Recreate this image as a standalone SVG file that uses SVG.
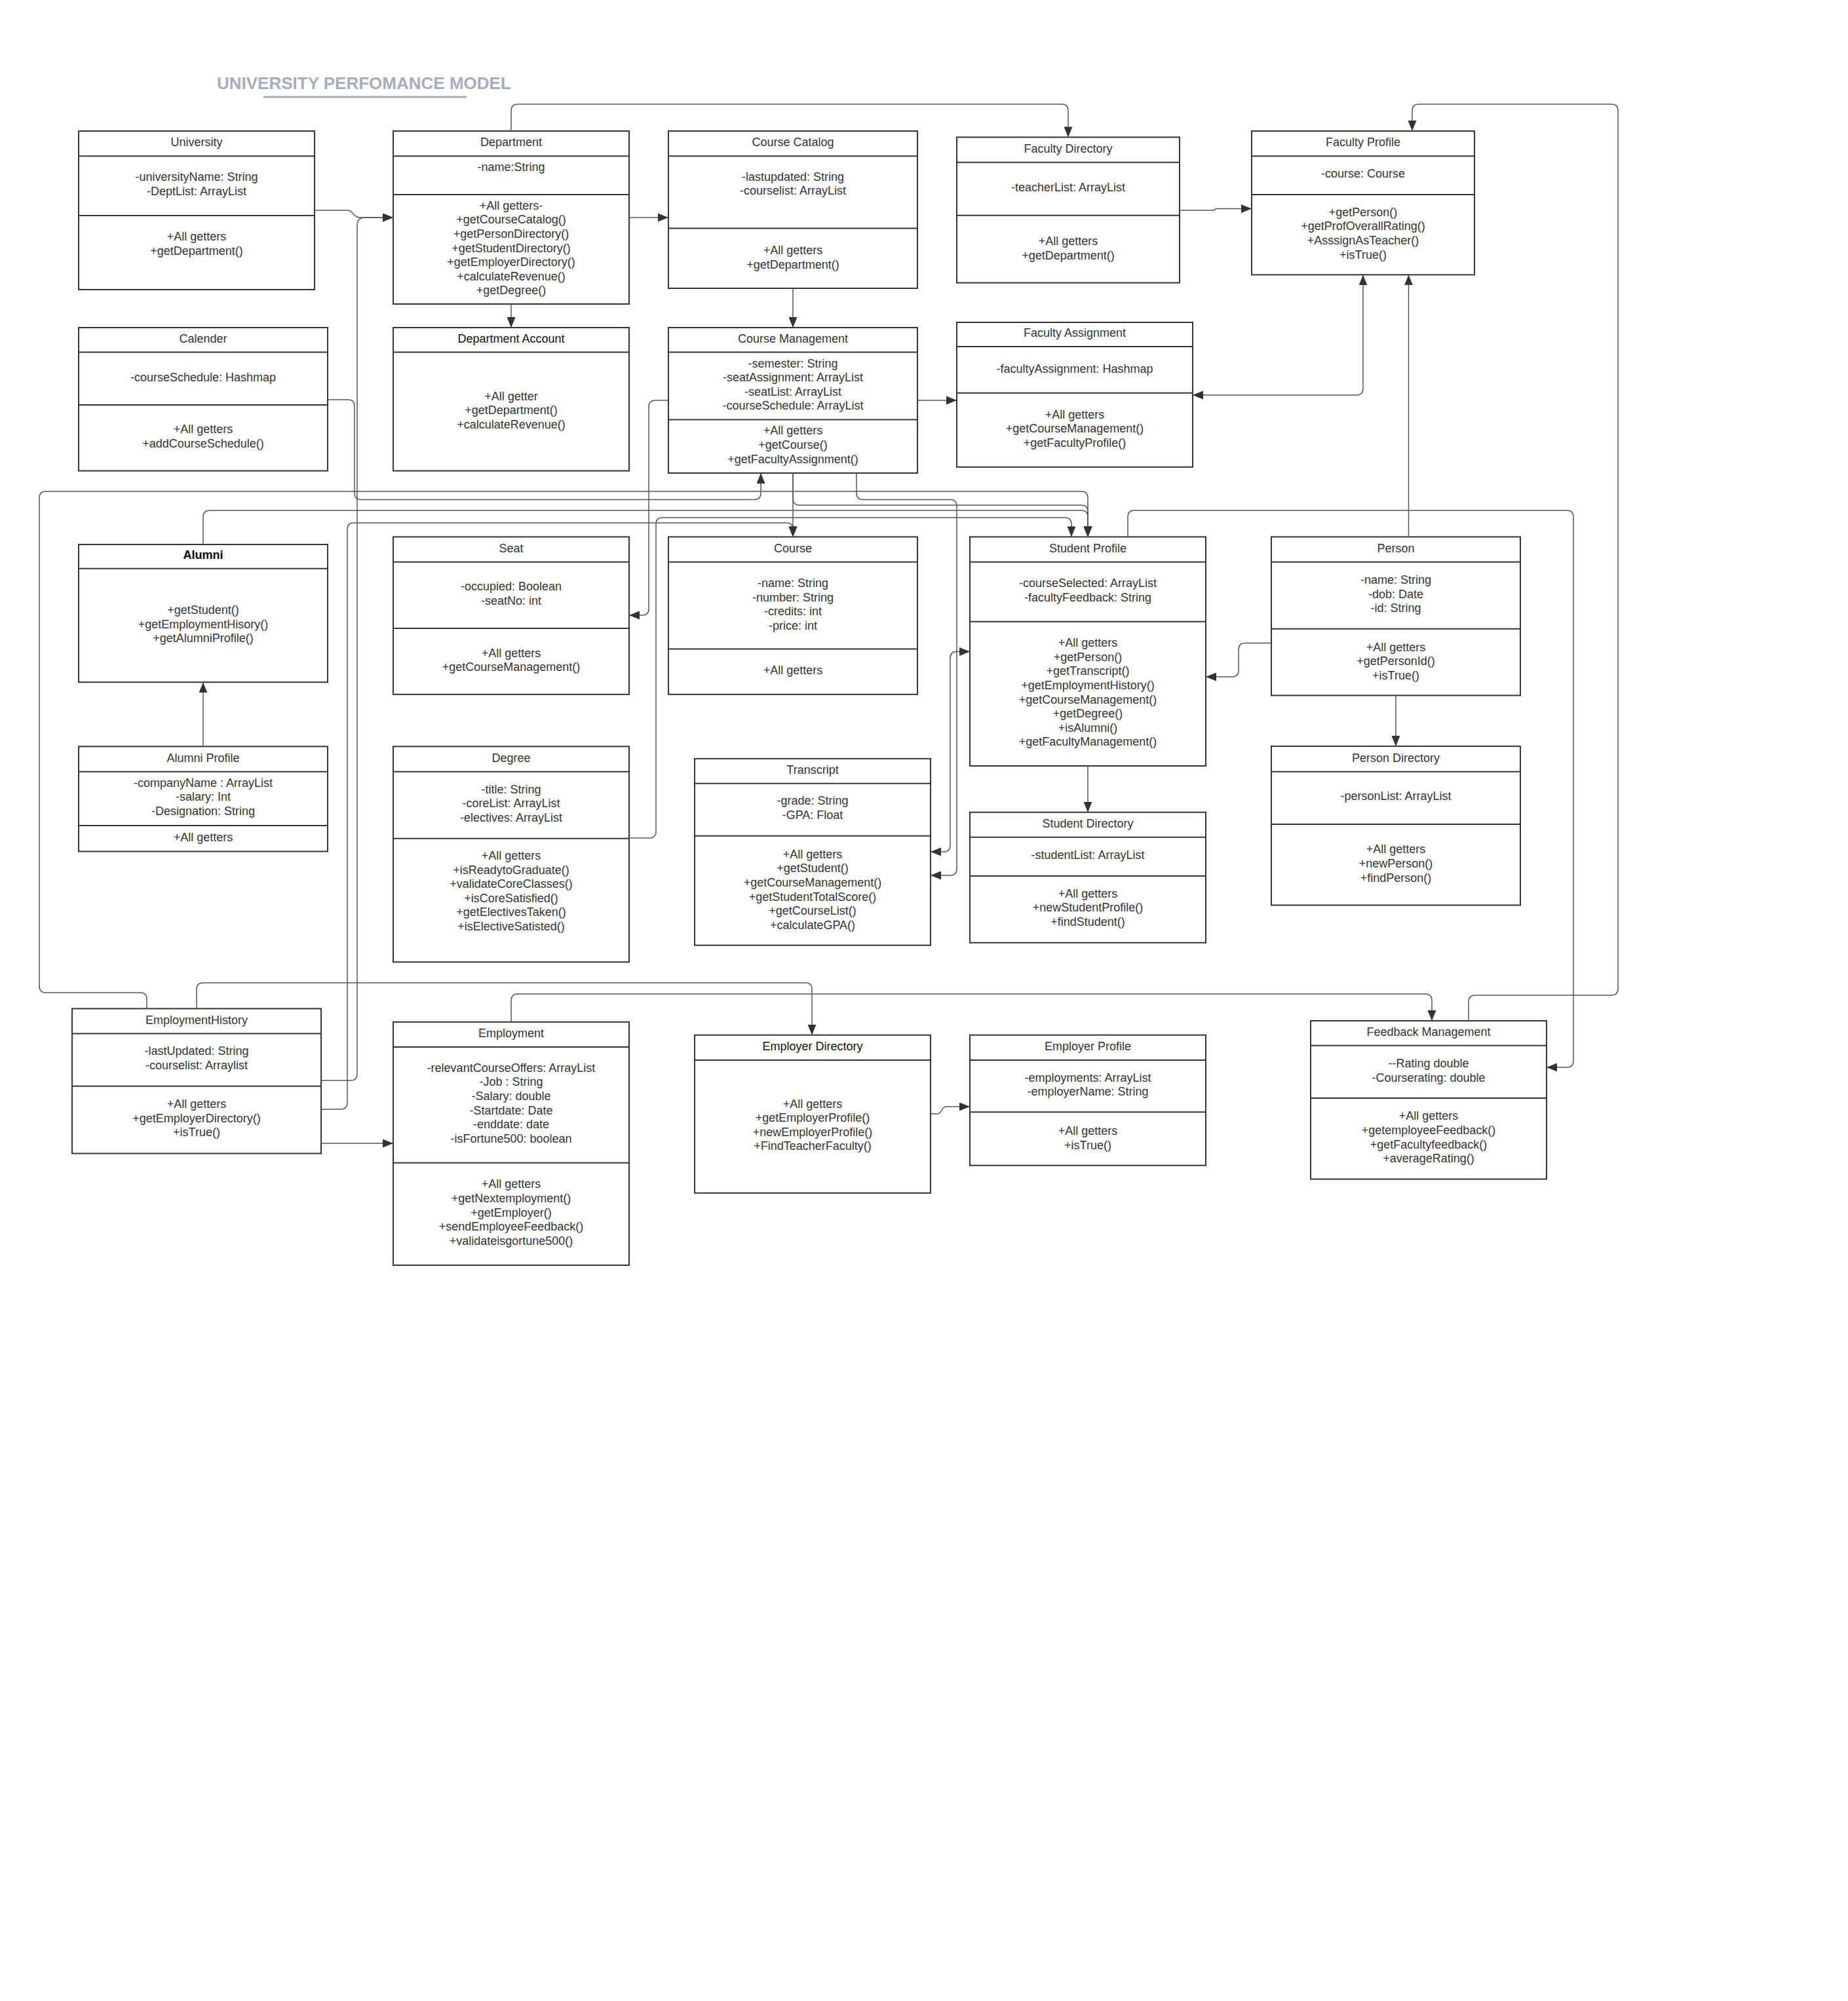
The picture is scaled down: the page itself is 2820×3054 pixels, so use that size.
<svg xmlns="http://www.w3.org/2000/svg" width="2820" height="3054" viewBox="0 0 2820 3054">
  <style>
    .box { fill: #fff; stroke: #333; stroke-width: 2; }
    .sep { stroke: #333; stroke-width: 2; }
    .t { font-family: "Liberation Sans", Arial, sans-serif; font-size: 18px; fill: #333; text-anchor: middle; }
    .hd { fill: #111; }
    .bold { font-weight: bold; fill: #000; }
    .title { font-family: "Liberation Sans", Arial, sans-serif; font-size: 26px; font-weight: bold; fill: #a7aebb; }
    .c { fill: none; stroke: #555; stroke-width: 1.5; }
  </style>
  <defs>
    <marker id="arr" viewBox="0 0 16 13" refX="16" refY="6.5" markerWidth="16" markerHeight="13" markerUnits="userSpaceOnUse" orient="auto-start-reverse">
      <path d="M0,0 L16,6.5 L0,13 z" fill="#333"/>
    </marker>
  </defs>
  <rect width="2820" height="3054" fill="#fff"/>

  <!-- heading -->
  <g id="heading">
    <text class="title" x="331" y="135.5">UNIVERSITY PERFOMANCE MODEL</text>
    <line x1="402" y1="148" x2="712" y2="148" stroke="#a7aebb" stroke-width="3"/>
  </g>

  <!-- classes -->
  <g id="university">
    <rect class="box" x="120" y="200" width="360" height="242"/>
    <line class="sep" x1="120" y1="238.3" x2="480" y2="238.3"/>
    <line class="sep" x1="120" y1="329" x2="480" y2="329"/>
    <text class="t" x="300" y="222.5">University</text>
    <text class="t" x="300" y="276.3">-universityName: String</text>
    <text class="t" x="300" y="298">-DeptList: ArrayList</text>
    <text class="t" x="300" y="367.3">+All getters</text>
    <text class="t" x="300" y="389">+getDepartment()</text>
  </g>

  <g id="department">
    <rect class="box" x="600" y="200" width="360" height="264"/>
    <line class="sep" x1="600" y1="238.3" x2="960" y2="238.3"/>
    <line class="sep" x1="600" y1="297" x2="960" y2="297"/>
    <text class="t" x="780" y="222.5">Department</text>
    <text class="t" x="780" y="261">-name:String</text>
    <text class="t" x="780" y="319.8">+All getters-</text>
    <text class="t" x="780" y="341.4">+getCourseCatalog()</text>
    <text class="t" x="780" y="363">+getPersonDirectory()</text>
    <text class="t" x="780" y="384.6">+getStudentDirectory()</text>
    <text class="t" x="780" y="406.2">+getEmployerDirectory()</text>
    <text class="t" x="780" y="427.8">+calculateRevenue()</text>
    <text class="t" x="780" y="449.4">+getDegree()</text>
  </g>

  <g id="course-catalog">
    <rect class="box" x="1020" y="200" width="380" height="240"/>
    <line class="sep" x1="1020" y1="238.3" x2="1400" y2="238.3"/>
    <line class="sep" x1="1020" y1="348.6" x2="1400" y2="348.6"/>
    <text class="t" x="1210" y="222.5">Course Catalog</text>
    <text class="t" x="1210" y="275.5">-lastupdated: String</text>
    <text class="t" x="1210" y="297.3">-courselist: ArrayList</text>
    <text class="t" x="1210" y="387.8">+All getters</text>
    <text class="t" x="1210" y="409.6">+getDepartment()</text>
  </g>

  <g id="faculty-directory">
    <rect class="box" x="1460" y="209.4" width="340" height="222.2"/>
    <line class="sep" x1="1460" y1="247.8" x2="1800" y2="247.8"/>
    <line class="sep" x1="1460" y1="328.8" x2="1800" y2="328.8"/>
    <text class="t" x="1630" y="232.8">Faculty Directory</text>
    <text class="t" x="1630" y="292.1">-teacherList: ArrayList</text>
    <text class="t" x="1630" y="374">+All getters</text>
    <text class="t" x="1630" y="395.7">+getDepartment()</text>
  </g>

  <g id="faculty-profile">
    <rect class="box" x="1910" y="200" width="340" height="219.4"/>
    <line class="sep" x1="1910" y1="238.3" x2="2250" y2="238.3"/>
    <line class="sep" x1="1910" y1="297" x2="2250" y2="297"/>
    <text class="t" x="2080" y="222.5">Faculty Profile</text>
    <text class="t" x="2080" y="270.8">-course: Course</text>
    <text class="t" x="2080" y="329.7">+getPerson()</text>
    <text class="t" x="2080" y="351.3">+getProfOverallRating()</text>
    <text class="t" x="2080" y="372.9">+AsssignAsTeacher()</text>
    <text class="t" x="2080" y="394.5">+isTrue()</text>
  </g>

  <g id="calender">
    <rect class="box" x="120" y="500" width="380" height="218.6"/>
    <line class="sep" x1="120" y1="537.6" x2="500" y2="537.6"/>
    <line class="sep" x1="120" y1="618" x2="500" y2="618"/>
    <text class="t" x="310" y="522.7">Calender</text>
    <text class="t" x="310" y="581.6">-courseSchedule: Hashmap</text>
    <text class="t" x="310" y="661.4">+All getters</text>
    <text class="t" x="310" y="683.2">+addCourseSchedule()</text>
  </g>

  <g id="department-account">
    <rect class="box" x="600" y="500" width="360" height="218.6"/>
    <line class="sep" x1="600" y1="537.6" x2="960" y2="537.6"/>
    <text class="t hd" x="780" y="522.7">Department Account</text>
    <text class="t" x="780" y="610.8">+All getter</text>
    <text class="t" x="780" y="632.4">+getDepartment()</text>
    <text class="t" x="780" y="654">+calculateRevenue()</text>
  </g>

  <g id="course-management">
    <rect class="box" x="1020" y="500" width="380" height="222"/>
    <line class="sep" x1="1020" y1="537.6" x2="1400" y2="537.6"/>
    <line class="sep" x1="1020" y1="640.4" x2="1400" y2="640.4"/>
    <text class="t" x="1210" y="522.7">Course Management</text>
    <text class="t" x="1210" y="560.6">-semester: String</text>
    <text class="t" x="1210" y="582.2">-seatAssignment: ArrayList</text>
    <text class="t" x="1210" y="603.8">-seatList: ArrayList</text>
    <text class="t" x="1210" y="625.4">-courseSchedule: ArrayList</text>
    <text class="t" x="1210" y="663.4">+All getters</text>
    <text class="t" x="1210" y="685">+getCourse()</text>
    <text class="t" x="1210" y="706.6">+getFacultyAssignment()</text>
  </g>

  <g id="faculty-assignment">
    <rect class="box" x="1460" y="492" width="360" height="220.8"/>
    <line class="sep" x1="1460" y1="529" x2="1820" y2="529"/>
    <line class="sep" x1="1460" y1="599.7" x2="1820" y2="599.7"/>
    <text class="t" x="1640" y="514">Faculty Assignment</text>
    <text class="t" x="1640" y="568.5">-facultyAssignment: Hashmap</text>
    <text class="t" x="1640" y="638.5">+All getters</text>
    <text class="t" x="1640" y="660.3">+getCourseManagement()</text>
    <text class="t" x="1640" y="682">+getFacultyProfile()</text>
  </g>

  <g id="alumni">
    <rect class="box" x="120" y="831" width="380" height="210.2"/>
    <line class="sep" x1="120" y1="867.7" x2="500" y2="867.7"/>
    <text class="t bold" x="310" y="853.1">Alumni</text>
    <text class="t" x="310" y="936.9">+getStudent()</text>
    <text class="t" x="310" y="958.5">+getEmploymentHisory()</text>
    <text class="t" x="310" y="980.1">+getAlumniProfile()</text>
  </g>

  <g id="seat">
    <rect class="box" x="600" y="819.4" width="360" height="240.4"/>
    <line class="sep" x1="600" y1="857.8" x2="960" y2="857.8"/>
    <line class="sep" x1="600" y1="959" x2="960" y2="959"/>
    <text class="t" x="780" y="842.8">Seat</text>
    <text class="t" x="780" y="901.3">-occupied: Boolean</text>
    <text class="t" x="780" y="923.1">-seatNo: int</text>
    <text class="t" x="780" y="1002.6">+All getters</text>
    <text class="t" x="780" y="1024.3">+getCourseManagement()</text>
  </g>

  <g id="course">
    <rect class="box" x="1020" y="819.4" width="380" height="240.4"/>
    <line class="sep" x1="1020" y1="857.8" x2="1400" y2="857.8"/>
    <line class="sep" x1="1020" y1="990.6" x2="1400" y2="990.6"/>
    <text class="t" x="1210" y="842.8">Course</text>
    <text class="t" x="1210" y="896.2">-name: String</text>
    <text class="t" x="1210" y="917.8">-number: String</text>
    <text class="t" x="1210" y="939.4">-credits: int</text>
    <text class="t" x="1210" y="961">-price: int</text>
    <text class="t" x="1210" y="1029">+All getters</text>
  </g>

  <g id="student-profile">
    <rect class="box" x="1480" y="819.4" width="360" height="349.6"/>
    <line class="sep" x1="1480" y1="857.8" x2="1840" y2="857.8"/>
    <line class="sep" x1="1480" y1="948.7" x2="1840" y2="948.7"/>
    <text class="t" x="1660" y="842.8">Student Profile</text>
    <text class="t" x="1660" y="896.2">-courseSelected: ArrayList</text>
    <text class="t" x="1660" y="917.9">-facultyFeedback: String</text>
    <text class="t" x="1660" y="987.1">+All getters</text>
    <text class="t" x="1660" y="1008.7">+getPerson()</text>
    <text class="t" x="1660" y="1030.3">+getTranscript()</text>
    <text class="t" x="1660" y="1051.9">+getEmploymentHistory()</text>
    <text class="t" x="1660" y="1073.5">+getCourseManagement()</text>
    <text class="t" x="1660" y="1095.1">+getDegree()</text>
    <text class="t" x="1660" y="1116.7">+isAlumni()</text>
    <text class="t" x="1660" y="1138.3">+getFacultyManagement()</text>
  </g>

  <g id="person">
    <rect class="box" x="1940" y="819.4" width="380" height="242"/>
    <line class="sep" x1="1940" y1="857.8" x2="2320" y2="857.8"/>
    <line class="sep" x1="1940" y1="959.8" x2="2320" y2="959.8"/>
    <text class="t" x="2130" y="842.8">Person</text>
    <text class="t" x="2130" y="891">-name: String</text>
    <text class="t" x="2130" y="912.8">-dob: Date</text>
    <text class="t" x="2130" y="934.2">-id: String</text>
    <text class="t" x="2130" y="993.5">+All getters</text>
    <text class="t" x="2130" y="1015.2">+getPersonId()</text>
    <text class="t" x="2130" y="1036.6">+isTrue()</text>
  </g>

  <g id="alumni-profile">
    <rect class="box" x="120" y="1139.3" width="380" height="160.2"/>
    <line class="sep" x1="120" y1="1177.7" x2="500" y2="1177.7"/>
    <line class="sep" x1="120" y1="1259.9" x2="500" y2="1259.9"/>
    <text class="t" x="310" y="1162.7">Alumni Profile</text>
    <text class="t" x="310" y="1200.7">-companyName : ArrayList</text>
    <text class="t" x="310" y="1222.4">-salary: Int</text>
    <text class="t" x="310" y="1244.2">-Designation: String</text>
    <text class="t" x="310" y="1283.7">+All getters</text>
  </g>

  <g id="degree">
    <rect class="box" x="600" y="1139.3" width="360" height="329"/>
    <line class="sep" x1="600" y1="1177.7" x2="960" y2="1177.7"/>
    <line class="sep" x1="600" y1="1279.7" x2="960" y2="1279.7"/>
    <text class="t" x="780" y="1162.7">Degree</text>
    <text class="t" x="780" y="1210.6">-title: String</text>
    <text class="t" x="780" y="1231.9">-coreList: ArrayList</text>
    <text class="t" x="780" y="1253.6">-electives: ArrayList</text>
    <text class="t" x="780" y="1312">+All getters</text>
    <text class="t" x="780" y="1333.6">+isReadytoGraduate()</text>
    <text class="t" x="780" y="1355.2">+validateCoreClasses()</text>
    <text class="t" x="780" y="1376.8">+isCoreSatisfied()</text>
    <text class="t" x="780" y="1398.4">+getElectivesTaken()</text>
    <text class="t" x="780" y="1420">+isElectiveSatisted()</text>
  </g>

  <g id="transcript">
    <rect class="box" x="1060" y="1157.9" width="360" height="284.8"/>
    <line class="sep" x1="1060" y1="1195.8" x2="1420" y2="1195.8"/>
    <line class="sep" x1="1060" y1="1275.7" x2="1420" y2="1275.7"/>
    <text class="t" x="1240" y="1180.5">Transcript</text>
    <text class="t" x="1240" y="1228.3">-grade: String</text>
    <text class="t" x="1240" y="1250.1">-GPA: Float</text>
    <text class="t" x="1240" y="1309.8">+All getters</text>
    <text class="t" x="1240" y="1331.4">+getStudent()</text>
    <text class="t" x="1240" y="1353">+getCourseManagement()</text>
    <text class="t" x="1240" y="1374.6">+getStudentTotalScore()</text>
    <text class="t" x="1240" y="1396.2">+getCourseList()</text>
    <text class="t" x="1240" y="1417.8">+calculateGPA()</text>
  </g>

  <g id="student-directory">
    <rect class="box" x="1480" y="1239.7" width="360" height="199.1"/>
    <line class="sep" x1="1480" y1="1277.7" x2="1840" y2="1277.7"/>
    <line class="sep" x1="1480" y1="1336.9" x2="1840" y2="1336.9"/>
    <text class="t" x="1660" y="1262.7">Student Directory</text>
    <text class="t" x="1660" y="1310.6">-studentList: ArrayList</text>
    <text class="t" x="1660" y="1369.7">+All getters</text>
    <text class="t" x="1660" y="1391.4">+newStudentProfile()</text>
    <text class="t" x="1660" y="1412.7">+findStudent()</text>
  </g>

  <g id="person-directory">
    <rect class="box" x="1940" y="1138.9" width="380" height="242.6"/>
    <line class="sep" x1="1940" y1="1177.7" x2="2320" y2="1177.7"/>
    <line class="sep" x1="1940" y1="1257.9" x2="2320" y2="1257.9"/>
    <text class="t" x="2130" y="1162.7">Person Directory</text>
    <text class="t" x="2130" y="1221.2">-personList: ArrayList</text>
    <text class="t" x="2130" y="1302">+All getters</text>
    <text class="t" x="2130" y="1324">+newPerson()</text>
    <text class="t" x="2130" y="1346">+findPerson()</text>
  </g>

  <g id="employment-history">
    <rect class="box" x="110" y="1539.4" width="380" height="221.1"/>
    <line class="sep" x1="110" y1="1577.5" x2="490" y2="1577.5"/>
    <line class="sep" x1="110" y1="1657.8" x2="490" y2="1657.8"/>
    <text class="t" x="300" y="1562.7">EmploymentHistory</text>
    <text class="t" x="300" y="1610.4">-lastUpdated: String</text>
    <text class="t" x="300" y="1632">-courselist: Arraylist</text>
    <text class="t" x="300" y="1691.1">+All getters</text>
    <text class="t" x="300" y="1712.8">+getEmployerDirectory()</text>
    <text class="t" x="300" y="1734.4">+isTrue()</text>
  </g>

  <g id="employment">
    <rect class="box" x="600" y="1559.8" width="360" height="371.2"/>
    <line class="sep" x1="600" y1="1597.9" x2="960" y2="1597.9"/>
    <line class="sep" x1="600" y1="1774.8" x2="960" y2="1774.8"/>
    <text class="t" x="780" y="1582.7">Employment</text>
    <text class="t" x="780" y="1635.6">-relevantCourseOffers: ArrayList</text>
    <text class="t" x="780" y="1657.3">-Job : String</text>
    <text class="t" x="780" y="1678.9">-Salary: double</text>
    <text class="t" x="780" y="1700.6">-Startdate: Date</text>
    <text class="t" x="780" y="1722.3">-enddate: date</text>
    <text class="t" x="780" y="1744">-isFortune500: boolean</text>
    <text class="t" x="780" y="1813.4">+All getters</text>
    <text class="t" x="780" y="1835">+getNextemployment()</text>
    <text class="t" x="780" y="1856.7">+getEmployer()</text>
    <text class="t" x="780" y="1878.4">+sendEmployeeFeedback()</text>
    <text class="t" x="780" y="1900.1">+validateisgortune500()</text>
  </g>

  <g id="employer-directory">
    <rect class="box" x="1060" y="1579.7" width="360" height="241.1"/>
    <line class="sep" x1="1060" y1="1617.9" x2="1420" y2="1617.9"/>
    <text class="t hd" x="1240" y="1603">Employer Directory</text>
    <text class="t" x="1240" y="1690.6">+All getters</text>
    <text class="t" x="1240" y="1712.3">+getEmployerProfile()</text>
    <text class="t" x="1240" y="1733.6">+newEmployerProfile()</text>
    <text class="t" x="1240" y="1755.3">+FindTeacherFaculty()</text>
  </g>

  <g id="employer-profile">
    <rect class="box" x="1480" y="1579.7" width="360" height="199"/>
    <line class="sep" x1="1480" y1="1617.9" x2="1840" y2="1617.9"/>
    <line class="sep" x1="1480" y1="1697.2" x2="1840" y2="1697.2"/>
    <text class="t" x="1660" y="1603">Employer Profile</text>
    <text class="t" x="1660" y="1650.8">-employments: ArrayList</text>
    <text class="t" x="1660" y="1672.4">-employerName: String</text>
    <text class="t" x="1660" y="1731.8">+All getters</text>
    <text class="t" x="1660" y="1753.5">+isTrue()</text>
  </g>

  <g id="feedback-management">
    <rect class="box" x="2000" y="1558" width="360" height="241.6"/>
    <line class="sep" x1="2000" y1="1595.8" x2="2360" y2="1595.8"/>
    <line class="sep" x1="2000" y1="1676" x2="2360" y2="1676"/>
    <text class="t" x="2180" y="1581">Feedback Management</text>
    <text class="t" x="2180" y="1629">--Rating double</text>
    <text class="t" x="2180" y="1650.8">-Courserating: double</text>
    <text class="t" x="2180" y="1709.3">+All getters</text>
    <text class="t" x="2180" y="1731">+getemployeeFeedback()</text>
    <text class="t" x="2180" y="1752.7">+getFacultyfeedback()</text>
    <text class="t" x="2180" y="1774.3">+averageRating()</text>
  </g>

  <!-- associations -->
  <g id="connectors">
    <path class="c" d="M480,321 H530 C540,321 538,332 550,332 H600" marker-end="url(#arr)"/>
    <path class="c" d="M490,1649 H535 Q545,1649 545,1639 V344 Q545,332 557,332 H600" marker-end="url(#arr)"/>
    <path class="c" d="M500,610 H531 Q541,610 541,620 V752.5 Q541,762.5 551,762.5 H1151 Q1161,762.5 1161,752.5 V722" marker-end="url(#arr)"/>
    <path class="c" d="M224,1539.4 V1525 Q224,1515 214,1515 H70 Q60,1515 60,1505 V760 Q60,750 70,750 H1650 Q1660,750 1660,760 V819.4" marker-end="url(#arr)"/>
    <path class="c" d="M310,831 V789 Q310,779 320,779 H1650 Q1660,779 1660,789 V819.4" marker-end="url(#arr)"/>
    <path class="c" d="M1210,722 V819.4" marker-end="url(#arr)"/>
    <path class="c" d="M1210,722 V761 Q1210,771 1220,771 H1650 Q1660,771 1660,781 V819.4" marker-end="url(#arr)"/>
    <path class="c" d="M1307,722 V752.5 Q1307,762.5 1317,762.5 H1450 Q1460,762.5 1460,772.5 V1326 Q1460,1336 1450,1336 H1420" marker-end="url(#arr)"/>
    <path class="c" d="M1480,994.6 H1460 Q1450,994.6 1450,1004.6 V1290 Q1450,1300 1440,1300 H1420" marker-start="url(#arr)" marker-end="url(#arr)"/>
    <path class="c" d="M960,1279 H991 Q1001,1279 1001,1269 V800 Q1001,790 1011,790 H1625 Q1635,790 1635,800 V819.4" marker-end="url(#arr)"/>
    <path class="c" d="M490,1693 H520 Q530,1693 530,1683 V808 Q530,798 540,798 H1200 Q1210,798 1210,808 V819.4" marker-end="url(#arr)"/>
    <path class="c" d="M1020,611 H1000 Q990,611 990,621 V929 Q990,939 980,939 H960" marker-end="url(#arr)"/>
    <path class="c" d="M1400,611 H1460" marker-end="url(#arr)"/>
    <path class="c" d="M960,332 H1020" marker-end="url(#arr)"/>
    <path class="c" d="M780,200 V169 Q780,159 790,159 H1620 Q1630,159 1630,169 V209.4" marker-end="url(#arr)"/>
    <path class="c" d="M780,464 V500" marker-end="url(#arr)"/>
    <path class="c" d="M1210,440 V500" marker-end="url(#arr)"/>
    <path class="c" d="M1800,321 H1852 L1856,318.5 H1910" marker-end="url(#arr)"/>
    <path class="c" d="M2080,419.4 V593 Q2080,603 2070,603 H1820" marker-start="url(#arr)" marker-end="url(#arr)"/>
    <path class="c" d="M2149.5,819.4 V419.4" marker-end="url(#arr)"/>
    <path class="c" d="M2241,1558 V1529 Q2241,1519 2251,1519 H2459 Q2469,1519 2469,1509 V169 Q2469,159 2459,159 H2165 Q2155,159 2155,169 V200" marker-end="url(#arr)"/>
    <path class="c" d="M1721,819.4 V789 Q1721,779 1731,779 H2391 Q2401,779 2401,789 V1619 Q2401,1629 2391,1629 H2360" marker-end="url(#arr)"/>
    <path class="c" d="M1940,981.5 H1900 Q1890,981.5 1890,991.5 V1023 Q1890,1033 1880,1033 H1840" marker-end="url(#arr)"/>
    <path class="c" d="M1660,1169 V1239.7" marker-end="url(#arr)"/>
    <path class="c" d="M2130,1061.4 V1138.9" marker-end="url(#arr)"/>
    <path class="c" d="M310,1139.3 V1041.2" marker-end="url(#arr)"/>
    <path class="c" d="M490,1745 H600" marker-end="url(#arr)"/>
    <path class="c" d="M300,1539.4 V1510 Q300,1500 310,1500 H1229 Q1239,1500 1239,1510 V1579.7" marker-end="url(#arr)"/>
    <path class="c" d="M780,1559.8 V1527 Q780,1517 790,1517 H2175 Q2185,1517 2185,1527 V1558" marker-end="url(#arr)"/>
    <path class="c" d="M1420,1700 H1430 C1438,1700 1436,1689 1444,1689 H1480" marker-end="url(#arr)"/>
  </g>
</svg>
